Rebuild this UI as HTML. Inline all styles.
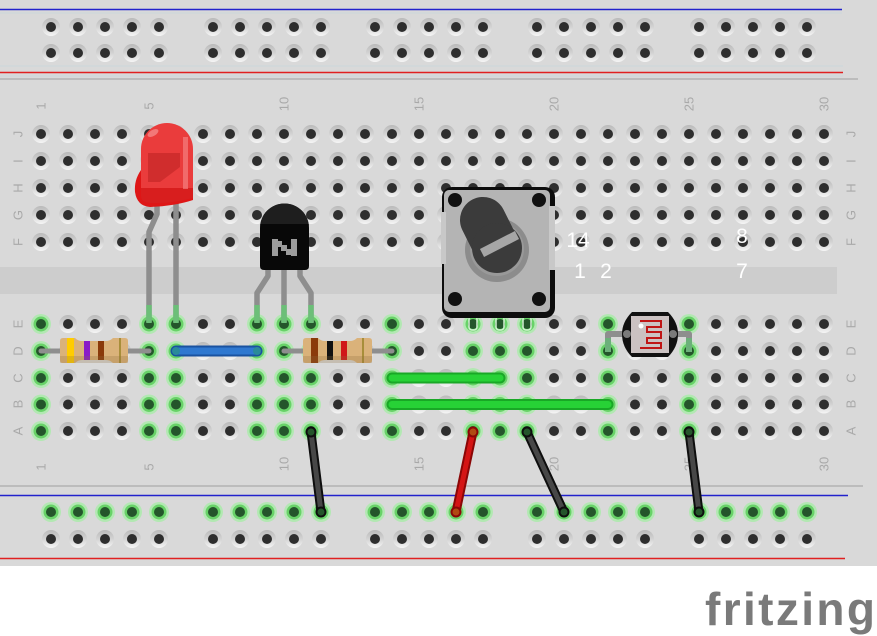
<!DOCTYPE html>
<html><head><meta charset="utf-8"><style>
html,body{margin:0;padding:0;background:#fff;}
svg{display:block;}
text{font-family:"Liberation Sans",sans-serif;}
</style></head><body>
<svg width="877" height="636" viewBox="0 0 877 636" xmlns="http://www.w3.org/2000/svg">
<defs>
<linearGradient id="hg" x1="0" y1="0" x2="0" y2="1"><stop offset="0" stop-color="#bababa"/><stop offset="0.5" stop-color="#d3d3d3"/><stop offset="1" stop-color="#f6f6f6"/></linearGradient>
<g id="h"><circle r="9" fill="url(#hg)"/><circle r="5" fill="#2e2e2e"/></g>
<g id="g"><circle r="10" fill="#b2e8b2"/><circle r="7.5" fill="#68d268"/><circle r="5" fill="#24552b"/></g>
<g id="rowAll"><use href="#h" x="41"/><use href="#h" x="68"/><use href="#h" x="95"/><use href="#h" x="122"/><use href="#h" x="149"/><use href="#h" x="176"/><use href="#h" x="203"/><use href="#h" x="230"/><use href="#h" x="257"/><use href="#h" x="284"/><use href="#h" x="311"/><use href="#h" x="338"/><use href="#h" x="365"/><use href="#h" x="392"/><use href="#h" x="419"/><use href="#h" x="446"/><use href="#h" x="473"/><use href="#h" x="500"/><use href="#h" x="527"/><use href="#h" x="554"/><use href="#h" x="581"/><use href="#h" x="608"/><use href="#h" x="635"/><use href="#h" x="662"/><use href="#h" x="689"/><use href="#h" x="716"/><use href="#h" x="743"/><use href="#h" x="770"/><use href="#h" x="797"/><use href="#h" x="824"/></g>
<g id="rowN"><use href="#h" x="68"/><use href="#h" x="95"/><use href="#h" x="122"/><use href="#h" x="203"/><use href="#h" x="230"/><use href="#h" x="338"/><use href="#h" x="365"/><use href="#h" x="419"/><use href="#h" x="446"/><use href="#h" x="554"/><use href="#h" x="581"/><use href="#h" x="635"/><use href="#h" x="662"/><use href="#h" x="716"/><use href="#h" x="743"/><use href="#h" x="770"/><use href="#h" x="797"/><use href="#h" x="824"/></g>
<g id="rowG"><use href="#g" x="41"/><use href="#g" x="149"/><use href="#g" x="176"/><use href="#g" x="257"/><use href="#g" x="284"/><use href="#g" x="311"/><use href="#g" x="392"/><use href="#g" x="473"/><use href="#g" x="500"/><use href="#g" x="527"/><use href="#g" x="608"/><use href="#g" x="689"/></g>
<g id="rail"><use href="#h" x="51"/><use href="#h" x="78"/><use href="#h" x="105"/><use href="#h" x="132"/><use href="#h" x="159"/><use href="#h" x="213"/><use href="#h" x="240"/><use href="#h" x="267"/><use href="#h" x="294"/><use href="#h" x="321"/><use href="#h" x="375"/><use href="#h" x="402"/><use href="#h" x="429"/><use href="#h" x="456"/><use href="#h" x="483"/><use href="#h" x="537"/><use href="#h" x="564"/><use href="#h" x="591"/><use href="#h" x="618"/><use href="#h" x="645"/><use href="#h" x="699"/><use href="#h" x="726"/><use href="#h" x="753"/><use href="#h" x="780"/><use href="#h" x="807"/></g>
<g id="railG"><use href="#g" x="51"/><use href="#g" x="78"/><use href="#g" x="105"/><use href="#g" x="132"/><use href="#g" x="159"/><use href="#g" x="213"/><use href="#g" x="240"/><use href="#g" x="267"/><use href="#g" x="294"/><use href="#g" x="321"/><use href="#g" x="375"/><use href="#g" x="402"/><use href="#g" x="429"/><use href="#g" x="456"/><use href="#g" x="483"/><use href="#g" x="537"/><use href="#g" x="564"/><use href="#g" x="591"/><use href="#g" x="618"/><use href="#g" x="645"/><use href="#g" x="699"/><use href="#g" x="726"/><use href="#g" x="753"/><use href="#g" x="780"/><use href="#g" x="807"/></g>
</defs>

<!-- board -->
<rect x="0" y="0" width="877" height="566" fill="#d9d9d9"/>
<rect x="0" y="267" width="837" height="27" fill="#cdcdcd"/>

<!-- top rail lines -->
<line x1="0" y1="13" x2="842" y2="13" stroke="#cbd6dc" stroke-width="1"/>
<line x1="0" y1="9.5" x2="842" y2="9.5" stroke="#2222cc" stroke-width="1.5"/>
<line x1="0" y1="66" x2="843" y2="66" stroke="#cbd6dc" stroke-width="1"/>
<line x1="0" y1="72.5" x2="843" y2="72.5" stroke="#e02020" stroke-width="1.5"/>
<line x1="0" y1="76" x2="843" y2="76" stroke="#cbd6dc" stroke-width="1"/>
<line x1="0" y1="79" x2="858" y2="79" stroke="#b2b2b2" stroke-width="1.5"/>
<!-- bottom rail lines -->
<line x1="0" y1="486" x2="863" y2="486" stroke="#b2b2b2" stroke-width="1.5"/>
<line x1="0" y1="495.5" x2="848" y2="495.5" stroke="#2222cc" stroke-width="1.5"/>
<line x1="0" y1="558.5" x2="845" y2="558.5" stroke="#e02020" stroke-width="1.5"/>

<!-- holes -->
<use href="#rail" y="27"/>
<use href="#rail" y="53"/>
<use href="#rowAll" y="134"/>
<use href="#rowAll" y="161"/>
<use href="#rowAll" y="188"/>
<use href="#rowAll" y="215"/>
<use href="#rowAll" y="242"/>
<use href="#rowN" y="324"/><use href="#rowG" y="324"/>
<use href="#rowN" y="351"/><use href="#rowG" y="351"/>
<use href="#rowN" y="378"/><use href="#rowG" y="378"/>
<use href="#rowN" y="404.5"/><use href="#rowG" y="404.5"/>
<use href="#rowN" y="431"/><use href="#rowG" y="431"/>
<use href="#railG" y="512"/>
<use href="#rail" y="539"/>

<!-- column numbers -->
<g fill="#a9a9a9" font-size="13" text-anchor="middle" dominant-baseline="central">
<text x="41" y="106" transform="rotate(-90 41 106)">1</text>
<text x="149" y="106" transform="rotate(-90 149 106)">5</text>
<text x="284" y="104" transform="rotate(-90 284 104)">10</text>
<text x="419" y="104" transform="rotate(-90 419 104)">15</text>
<text x="554" y="104" transform="rotate(-90 554 104)">20</text>
<text x="689" y="104" transform="rotate(-90 689 104)">25</text>
<text x="824" y="104" transform="rotate(-90 824 104)">30</text>
<text x="41" y="467" transform="rotate(-90 41 467)">1</text>
<text x="149" y="467" transform="rotate(-90 149 467)">5</text>
<text x="284" y="464" transform="rotate(-90 284 464)">10</text>
<text x="419" y="464" transform="rotate(-90 419 464)">15</text>
<text x="554" y="464" transform="rotate(-90 554 464)">20</text>
<text x="689" y="464" transform="rotate(-90 689 464)">25</text>
<text x="824" y="464" transform="rotate(-90 824 464)">30</text>
<!-- row letters -->
<text x="18" y="134" transform="rotate(-90 18 134)">J</text>
<text x="18" y="161" transform="rotate(-90 18 161)">I</text>
<text x="18" y="188" transform="rotate(-90 18 188)">H</text>
<text x="18" y="215" transform="rotate(-90 18 215)">G</text>
<text x="18" y="242" transform="rotate(-90 18 242)">F</text>
<text x="18" y="324" transform="rotate(-90 18 324)">E</text>
<text x="18" y="351" transform="rotate(-90 18 351)">D</text>
<text x="18" y="378" transform="rotate(-90 18 378)">C</text>
<text x="18" y="404" transform="rotate(-90 18 404)">B</text>
<text x="18" y="431" transform="rotate(-90 18 431)">A</text>
<text x="851" y="134" transform="rotate(-90 851 134)">J</text>
<text x="851" y="161" transform="rotate(-90 851 161)">I</text>
<text x="851" y="188" transform="rotate(-90 851 188)">H</text>
<text x="851" y="215" transform="rotate(-90 851 215)">G</text>
<text x="851" y="242" transform="rotate(-90 851 242)">F</text>
<text x="851" y="324" transform="rotate(-90 851 324)">E</text>
<text x="851" y="351" transform="rotate(-90 851 351)">D</text>
<text x="851" y="378" transform="rotate(-90 851 378)">C</text>
<text x="851" y="404" transform="rotate(-90 851 404)">B</text>
<text x="851" y="431" transform="rotate(-90 851 431)">A</text>
</g>

<!-- resistor 1 (col1 - col5, row D) -->
<line x1="41" y1="351" x2="149" y2="351" stroke="#8e8e8e" stroke-width="5" stroke-linecap="round"/>
<path d="M63,338 L75,338 Q78,341 82,341 L106,341 Q110,341 113,338 L125,338 Q128,338 128,341 L128,360 Q128,363 125,363 L113,363 Q110,360 106,360 L82,360 Q78,360 75,363 L63,363 Q60,363 60,360 L60,341 Q60,338 63,338 Z" fill="#dab27a"/>
<rect x="67" y="338" width="7" height="25" fill="#ffcc00"/>
<rect x="84" y="341" width="6" height="19" fill="#8a1ac8"/>
<rect x="98" y="341" width="6" height="19" fill="#8a3a0a"/>
<rect x="119" y="338" width="2" height="25" fill="#a88e3a"/>
<rect x="60" y="356" width="68" height="7" fill="#8a6a3a" opacity="0.25"/>

<!-- resistor 2 (col10 - col14, row D) -->
<line x1="284" y1="351" x2="392" y2="351" stroke="#8e8e8e" stroke-width="5" stroke-linecap="round"/>
<path d="M306,338 L318,338 Q321,341 325,341 L350,341 Q354,341 357,338 L369,338 Q372,338 372,341 L372,360 Q372,363 369,363 L357,363 Q354,360 350,360 L325,360 Q321,360 318,363 L306,363 Q303,363 303,360 L303,341 Q303,338 306,338 Z" fill="#dab27a"/>
<rect x="311" y="338" width="7" height="25" fill="#8a3a0a"/>
<rect x="327" y="341" width="6" height="19" fill="#111"/>
<rect x="341" y="341" width="6" height="19" fill="#d01818"/>
<rect x="362" y="338" width="2" height="25" fill="#a88e3a"/>
<rect x="303" y="356" width="69" height="7" fill="#8a6a3a" opacity="0.25"/>

<!-- blue wire -->
<line x1="176" y1="351" x2="257" y2="351" stroke="#1a52a0" stroke-width="11" stroke-linecap="round"/>
<line x1="176" y1="351" x2="257" y2="351" stroke="#2f78d0" stroke-width="7" stroke-linecap="round"/>
<circle cx="176" cy="351" r="4" fill="#2a8a9a"/><circle cx="257" cy="351" r="4" fill="#2a8a9a"/>

<!-- green wires -->
<line x1="392" y1="378" x2="500" y2="378" stroke="#19a826" stroke-width="11" stroke-linecap="round"/>
<line x1="392" y1="378" x2="500" y2="378" stroke="#27d236" stroke-width="7" stroke-linecap="round"/>
<line x1="392" y1="404.5" x2="608" y2="404.5" stroke="#19a826" stroke-width="11" stroke-linecap="round"/>
<line x1="392" y1="404.5" x2="608" y2="404.5" stroke="#27d236" stroke-width="7" stroke-linecap="round"/>

<!-- black / red wires -->
<line x1="311" y1="432" x2="321" y2="512" stroke="#0e0e0e" stroke-width="9" stroke-linecap="round"/>
<line x1="311" y1="432" x2="321" y2="512" stroke="#474747" stroke-width="5" stroke-linecap="round"/>
<line x1="527" y1="432" x2="564" y2="512" stroke="#0e0e0e" stroke-width="9" stroke-linecap="round"/>
<line x1="527" y1="432" x2="564" y2="512" stroke="#474747" stroke-width="5" stroke-linecap="round"/>
<line x1="689" y1="432" x2="699" y2="512" stroke="#0e0e0e" stroke-width="9" stroke-linecap="round"/>
<line x1="689" y1="432" x2="699" y2="512" stroke="#474747" stroke-width="5" stroke-linecap="round"/>
<line x1="473" y1="432" x2="456" y2="512" stroke="#8a0606" stroke-width="9" stroke-linecap="round"/>
<line x1="473" y1="432" x2="456" y2="512" stroke="#d41414" stroke-width="5" stroke-linecap="round"/>
<g fill="#24552b" stroke="#0e0e0e" stroke-width="2">
<circle cx="311" cy="432" r="4.5"/><circle cx="321" cy="512" r="4.5"/>
<circle cx="527" cy="432" r="4.5"/><circle cx="564" cy="512" r="4.5"/>
<circle cx="689" cy="432" r="4.5"/><circle cx="699" cy="512" r="4.5"/>
</g>
<g fill="#b04a12" stroke="#8a0606" stroke-width="2">
<circle cx="473" cy="432" r="4.5"/><circle cx="456" cy="512" r="4.5"/>
</g>

<!-- LED legs -->
<polyline points="157,200 157,214 149,232 149,322" fill="none" stroke="#8e8e8e" stroke-width="5.5" stroke-linejoin="round"/>
<line x1="176" y1="200" x2="176" y2="322" stroke="#8e8e8e" stroke-width="5.5"/>
<line x1="149" y1="305" x2="149" y2="323" stroke="#6cbf78" stroke-width="5.5"/>
<line x1="176" y1="305" x2="176" y2="323" stroke="#6cbf78" stroke-width="5.5"/>
<!-- LED body -->
<path d="M141,170 Q134,180 135,192 Q137,206 150,207 Q175,206 193,200 L193,180 L141,180 Z" fill="#de1616"/>
<path d="M141,196 L141,149 A26,26 0 0 1 193,149 L193,196 Z" fill="#ea3c3c"/>
<path d="M141,188 L193,188 L193,198 Q170,204 150,203 Q141,202 141,196 Z" fill="#d81e1e"/>
<path d="M148,153 L180,153 L180,167 L160,182 L148,182 Z" fill="#c42626" opacity="0.7"/>
<rect x="183" y="137" width="5" height="52" fill="#f58a8a" opacity="0.6"/>
<ellipse cx="153" cy="133" rx="6" ry="3" fill="#f7a0a0" opacity="0.6" transform="rotate(-30 153 133)"/>

<!-- transistor legs -->
<polyline points="268,266 268,276 257,293 257,322" fill="none" stroke="#8e8e8e" stroke-width="5.5" stroke-linejoin="round"/>
<line x1="284" y1="266" x2="284" y2="322" stroke="#8e8e8e" stroke-width="5.5"/>
<polyline points="300,266 300,276 311,293 311,322" fill="none" stroke="#8e8e8e" stroke-width="5.5" stroke-linejoin="round"/>
<line x1="257" y1="305" x2="257" y2="323" stroke="#6cbf78" stroke-width="5.5"/>
<line x1="284" y1="305" x2="284" y2="323" stroke="#6cbf78" stroke-width="5.5"/>
<line x1="311" y1="305" x2="311" y2="323" stroke="#6cbf78" stroke-width="5.5"/>
<!-- transistor body -->
<path d="M260,266 L260,228 A24.5,24.5 0 0 1 309,228 L309,266 Q309,270 305,270 L264,270 Q260,270 260,266 Z" fill="#080808"/>
<path d="M260,228 A24.5,24.5 0 0 1 309,228 L309,224 L260,224 Z" fill="#1e1e1e"/>
<g fill="#9c9c9c">
<rect x="272" y="239" width="6" height="17"/>
<rect x="291" y="239" width="6" height="17"/>
<rect x="277" y="241" width="5" height="6"/>
<rect x="281" y="245" width="6" height="6"/>
<rect x="286" y="249" width="6" height="6"/>
</g>

<!-- potentiometer pins -->
<g fill="none" stroke="#d4f2d4" stroke-width="1.5">
<rect x="469" y="316" width="8" height="14" rx="3"/>
<rect x="496" y="316" width="8" height="14" rx="3"/>
<rect x="523" y="316" width="8" height="14" rx="3"/>
</g>
<!-- potentiometer body -->
<rect x="442" y="187" width="113" height="131" rx="10" fill="#0d0d0d"/>
<rect x="444" y="190" width="106" height="122" rx="5" fill="#b4b4b4"/>
<rect x="441" y="212" width="5" height="52" fill="#c8c8c8"/>
<rect x="549" y="206" width="6" height="64" fill="#c8c8c8"/>
<circle cx="455" cy="200" r="7" fill="#111"/>
<circle cx="539" cy="200" r="7" fill="#111"/>
<circle cx="455" cy="299" r="7" fill="#111"/>
<circle cx="539" cy="299" r="7" fill="#111"/>
<circle cx="497" cy="250" r="32" fill="#8c8c8c"/>
<circle cx="497" cy="249" r="27" fill="#999"/>
<line x1="483" y1="220" x2="497" y2="248" stroke="#3b3b3b" stroke-width="46" stroke-linecap="round"/>
<circle cx="497" cy="248" r="25" fill="#3b3b3b"/>
<line x1="482" y1="253" x2="517" y2="235" stroke="#a6a6a6" stroke-width="9"/>

<!-- photoresistor legs -->
<polyline points="608,351 608,334 627,334" fill="none" stroke="#8e8e8e" stroke-width="6" stroke-linejoin="round"/>
<polyline points="673,334 689,334 689,351" fill="none" stroke="#8e8e8e" stroke-width="6" stroke-linejoin="round"/>
<line x1="608" y1="338" x2="608" y2="352" stroke="#6cb07a" stroke-width="6"/>
<line x1="689" y1="338" x2="689" y2="352" stroke="#6cb07a" stroke-width="6"/>
<!-- photoresistor body -->
<path d="M632,312 L668,312 Q678,322 678,334 Q678,347 668,357 L632,357 Q622,347 622,334 Q622,322 632,312 Z" fill="#111"/>
<rect x="631" y="316" width="38" height="37" fill="#cbc2c2"/>
<path d="M640,321 L661,321 L661,327 L647,327 L647,332 L661,332 L661,338 L647,338 L647,343 L661,343 L661,348 L640,348" fill="none" stroke="#c01515" stroke-width="2"/>
<circle cx="627" cy="334" r="4" fill="#7a7a7a"/>
<circle cx="673" cy="334" r="4" fill="#7a7a7a"/>
<circle cx="641" cy="326" r="2.5" fill="#fff"/>

<!-- white labels -->
<g fill="#ffffff" font-size="21" text-anchor="middle">
<text x="578" y="247">14</text>
<text x="580" y="278">1</text>
<text x="606" y="278">2</text>
<text x="742" y="243">8</text>
<text x="742" y="278">7</text>
</g>

<!-- fritzing logo -->
<text x="705" y="625" font-size="46" font-weight="bold" fill="#7a7a7a" textLength="170" lengthAdjust="spacing">fritzing</text>
</svg>
</body></html>
